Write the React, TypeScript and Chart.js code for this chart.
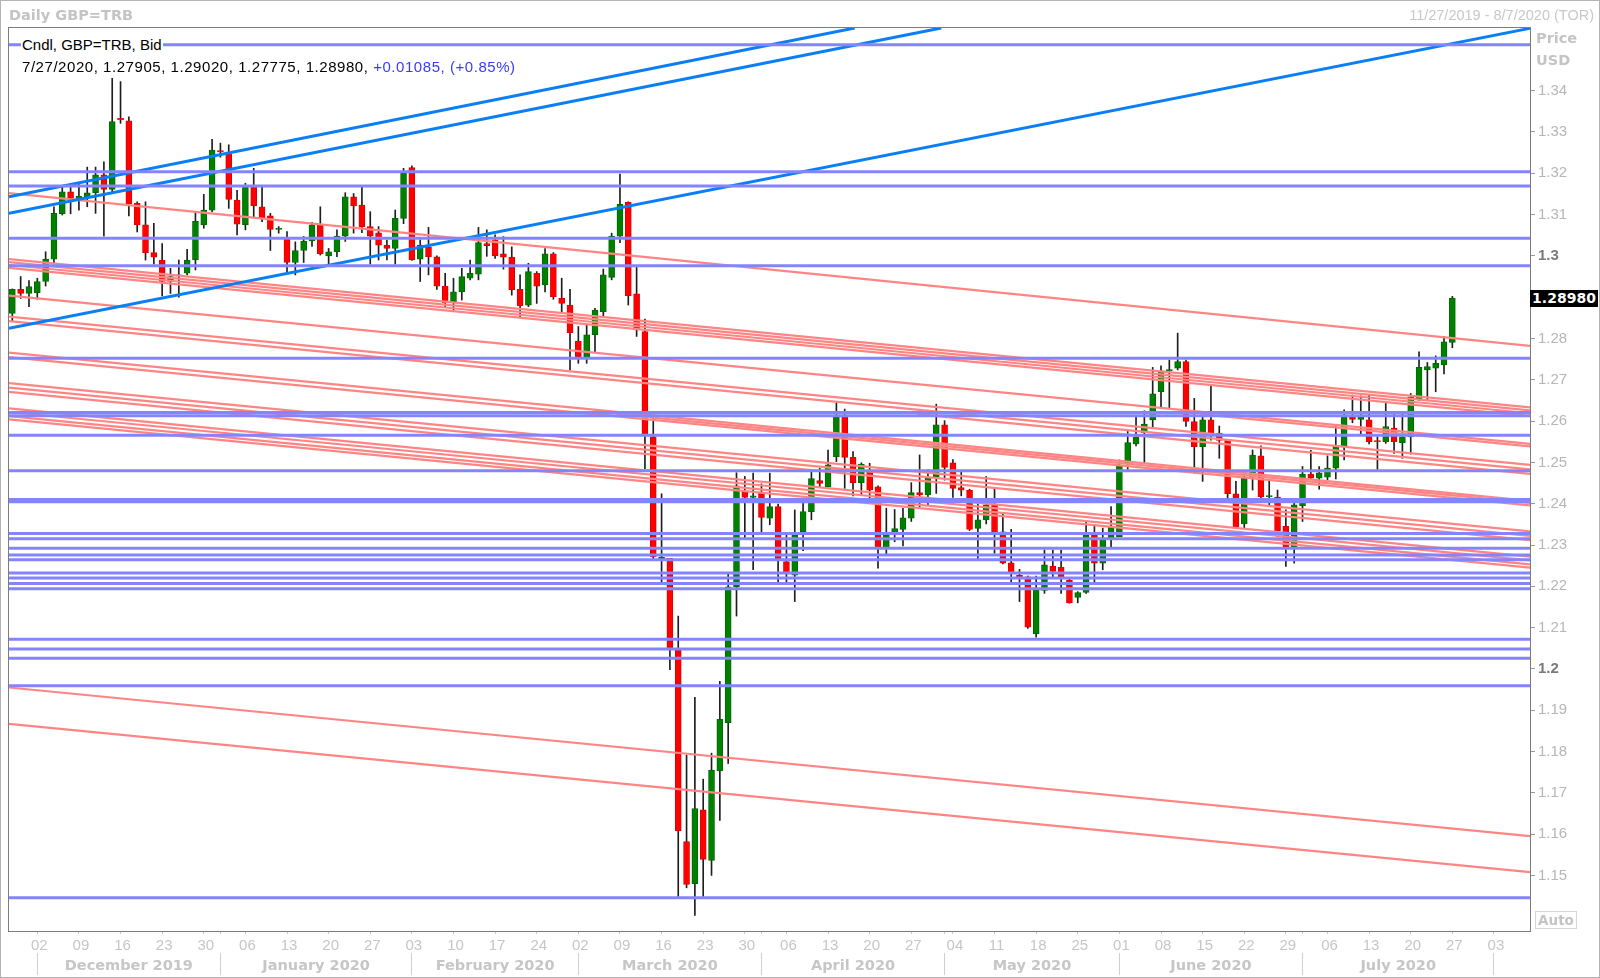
import { useEffect, useRef } from 'react';
import { Chart, registerables } from 'chart.js';

Chart.register(...registerables);

// weekday index: 0 = Mon 2 Dec 2019
const FIRST_INDEX = -3; // Wed 27 Nov 2019
const X_MIN = -3.4;
const X_MAX = 179.33;
const Y_MIN = 1.13654;
const Y_MAX = 1.35518;

const opens = [
  1.2861, 1.2919, 1.2909,
  1.2911, 1.2938, 1.2992, 1.3102, 1.3155, 1.3137, 1.3143, 1.3153, 1.3196, 1.3161,
  1.3333, 1.3327, 1.3127, 1.3075, 1.3008, 1.2990, 1.2938, 1.2952, 1.2958, 1.2990,
  1.3075, 1.3111, 1.3255, 1.3248, 1.3135, 1.3075, 1.3168, 1.3119, 1.3097, 1.3064,
  1.3040, 1.2984, 1.3013, 1.3036, 1.3075, 1.3000, 1.3010, 1.3048, 1.3143, 1.3123,
  1.3071, 1.3056, 1.3026, 1.3018, 1.3091, 1.3214, 1.2992, 1.3022, 1.2998, 1.2927,
  1.2889, 1.2913, 1.2946, 1.2956, 1.3030, 1.3039, 1.3005, 1.2997, 1.2919, 1.2881,
  1.2958, 1.2930, 1.3005, 1.2897, 1.2881, 1.2794, 1.2756, 1.2809, 1.2865, 1.2948,
  1.3048, 1.3130, 1.2908, 1.2817, 1.2562, 1.2266, 1.2268, 1.2046, 1.1582, 1.1480,
  1.1659, 1.1536, 1.1753, 1.1870, 1.2199, 1.2430, 1.2415, 1.2425, 1.2365, 1.2393,
  1.2260, 1.2227, 1.2332, 1.2381, 1.2456, 1.2441, 1.2514, 1.2611, 1.2512, 1.2451,
  1.2478, 1.2441, 1.2294, 1.2327, 1.2338, 1.2365, 1.2427, 1.2421, 1.2464, 1.2591,
  1.2499, 1.2439, 1.2433, 1.2340, 1.2361, 1.2397, 1.2332, 1.2257, 1.2227, 1.2223,
  1.2085, 1.2190, 1.2249, 1.2246, 1.2215, 1.2173, 1.2185, 1.2324, 1.2256, 1.2316,
  1.2320, 1.2498, 1.2545, 1.2572, 1.2603, 1.2671, 1.2722, 1.2728, 1.2744, 1.2599,
  1.2538, 1.2603, 1.2571, 1.2554, 1.2424, 1.2351, 1.2464, 1.2516, 1.2417, 1.2416,
  1.2345, 1.2296, 1.2395, 1.2472, 1.2462, 1.2464, 1.2486, 1.2538, 1.2611, 1.2604,
  1.2603, 1.2553, 1.2550, 1.2583, 1.2548, 1.2562, 1.2654, 1.2724, 1.2728, 1.2736,
  1.27905,
];

const highs = [
  1.2920, 1.2950, 1.2940,
  1.2946, 1.3010, 1.3119, 1.3168, 1.3168, 1.3174, 1.3215, 1.3215, 1.3228, 1.3430,
  1.3422, 1.3337, 1.3131, 1.3131, 1.3079, 1.3030, 1.2970, 1.2990, 1.3016, 1.3107,
  1.3149, 1.3282, 1.3273, 1.3269, 1.3159, 1.3176, 1.3212, 1.3166, 1.3103, 1.3071,
  1.3059, 1.3034, 1.3047, 1.3081, 1.3119, 1.3018, 1.3063, 1.3153, 1.3151, 1.3166,
  1.3107, 1.3071, 1.3038, 1.3111, 1.3212, 1.3218, 1.3039, 1.3069, 1.3000, 1.2958,
  1.2946, 1.2970, 1.2990, 1.3069, 1.3063, 1.3051, 1.3047, 1.3022, 1.2954, 1.2982,
  1.2962, 1.3018, 1.3008, 1.2946, 1.2919, 1.2829, 1.2833, 1.2873, 1.2968, 1.3055,
  1.3198, 1.3131, 1.2974, 1.2847, 1.2607, 1.2424, 1.2268, 1.2128, 1.1791, 1.1931,
  1.1733, 1.1796, 1.1970, 1.2230, 1.2475, 1.2466, 1.2474, 1.2448, 1.2474, 1.2399,
  1.2324, 1.2385, 1.2401, 1.2478, 1.2486, 1.2530, 1.2645, 1.2629, 1.2526, 1.2499,
  1.2498, 1.2443, 1.2389, 1.2386, 1.2389, 1.2451, 1.2518, 1.2482, 1.2641, 1.2601,
  1.2507, 1.2478, 1.2435, 1.2407, 1.2466, 1.2437, 1.2375, 1.2338, 1.2241, 1.2225,
  1.2225, 1.2288, 1.2288, 1.2288, 1.2217, 1.2187, 1.2357, 1.2350, 1.2341, 1.2393,
  1.2506, 1.2575, 1.2611, 1.2625, 1.2730, 1.2734, 1.2748, 1.2813, 1.2748, 1.2655,
  1.2611, 1.2684, 1.2588, 1.2556, 1.2454, 1.2475, 1.2530, 1.2540, 1.2458, 1.2433,
  1.2385, 1.2409, 1.2490, 1.2529, 1.2490, 1.2516, 1.2591, 1.2627, 1.2663, 1.2661,
  1.2663, 1.2562, 1.2645, 1.2619, 1.2619, 1.2667, 1.2768, 1.2742, 1.2758, 1.2805,
  1.29020,
];

const lows = [
  1.2841, 1.2897, 1.2877,
  1.2895, 1.2927, 1.2982, 1.3099, 1.3102, 1.3111, 1.3119, 1.3103, 1.3048, 1.3155,
  1.3321, 1.3097, 1.3058, 1.2990, 1.2980, 1.2903, 1.2909, 1.2900, 1.2954, 1.2966,
  1.3067, 1.3107, 1.3239, 1.3115, 1.3051, 1.3063, 1.3095, 1.3083, 1.3013, 1.3055,
  1.2958, 1.2954, 1.2984, 1.3023, 1.3002, 1.2980, 1.2998, 1.3035, 1.3055, 1.3056,
  1.2980, 1.2990, 1.2990, 1.2980, 1.3078, 1.2989, 1.2938, 1.2954, 1.2919, 1.2877,
  1.2865, 1.2893, 1.2942, 1.2942, 1.2999, 1.2994, 1.2968, 1.2905, 1.2853, 1.2877,
  1.2885, 1.2913, 1.2895, 1.2861, 1.2724, 1.2740, 1.2740, 1.2768, 1.2855, 1.2942,
  1.3032, 1.2881, 1.2805, 1.2485, 1.2266, 1.2204, 1.1998, 1.1449, 1.1470, 1.1403,
  1.1449, 1.1500, 1.1633, 1.1771, 1.2128, 1.2317, 1.2240, 1.2332, 1.2349, 1.2207,
  1.2207, 1.2163, 1.2286, 1.2361, 1.2440, 1.2440, 1.2502, 1.2437, 1.2419, 1.2421,
  1.2405, 1.2244, 1.2278, 1.2308, 1.2298, 1.2357, 1.2393, 1.2395, 1.2425, 1.2457,
  1.2415, 1.2419, 1.2335, 1.2265, 1.2351, 1.2280, 1.2254, 1.2206, 1.2163, 1.2098,
  1.2077, 1.2183, 1.2219, 1.2183, 1.2159, 1.2160, 1.2183, 1.2210, 1.2240, 1.2292,
  1.2320, 1.2483, 1.2540, 1.2498, 1.2583, 1.2631, 1.2631, 1.2724, 1.2587, 1.2474,
  1.2454, 1.2554, 1.2510, 1.2413, 1.2341, 1.2341, 1.2433, 1.2413, 1.2393, 1.2320,
  1.2248, 1.2256, 1.2357, 1.2458, 1.2435, 1.2458, 1.2460, 1.2506, 1.2596, 1.2569,
  1.2545, 1.2483, 1.2546, 1.2522, 1.2510, 1.2520, 1.2650, 1.2651, 1.2671, 1.2714,
  1.27775,
];

const closes = [
  1.2919, 1.2909, 1.2926,
  1.2938, 1.2992, 1.3103, 1.3155, 1.3139, 1.3145, 1.3153, 1.3196, 1.3161, 1.3325,
  1.3329, 1.3126, 1.3075, 1.3008, 1.2997, 1.2938, 1.2950, 1.2954, 1.2990, 1.3084,
  1.3111, 1.3256, 1.3252, 1.3137, 1.3077, 1.3168, 1.3121, 1.3091, 1.3064, 1.3067,
  1.2984, 1.3013, 1.3036, 1.3075, 1.3005, 1.3010, 1.3048, 1.3143, 1.3121, 1.3071,
  1.3048, 1.3026, 1.3018, 1.3091, 1.3200, 1.2990, 1.3026, 1.2998, 1.2927, 1.2887,
  1.2913, 1.2950, 1.2958, 1.3032, 1.3025, 1.3000, 1.2997, 1.2918, 1.2879, 1.2962,
  1.2927, 1.3005, 1.2901, 1.2885, 1.2814, 1.2756, 1.2809, 1.2869, 1.2954, 1.3048,
  1.3125, 1.2904, 1.2821, 1.2567, 1.2271, 1.2270, 1.2051, 1.1608, 1.1478, 1.1662,
  1.1539, 1.1755, 1.1878, 1.2199, 1.2443, 1.2415, 1.2419, 1.2367, 1.2393, 1.2265,
  1.2230, 1.2324, 1.2381, 1.2461, 1.2449, 1.2494, 1.2611, 1.2512, 1.2451, 1.2496,
  1.2433, 1.2294, 1.2324, 1.2340, 1.2366, 1.2427, 1.2421, 1.2464, 1.2591, 1.2488,
  1.2437, 1.2433, 1.2338, 1.2361, 1.2397, 1.2330, 1.2256, 1.2233, 1.2222, 1.2101,
  1.2190, 1.2252, 1.2236, 1.2223, 1.2160, 1.2185, 1.2324, 1.2256, 1.2312, 1.2343,
  1.2491, 1.2548, 1.2561, 1.2593, 1.2666, 1.2722, 1.2725, 1.2744, 1.2599, 1.2538,
  1.2603, 1.2569, 1.2553, 1.2424, 1.2343, 1.2464, 1.2518, 1.2417, 1.2419, 1.2335,
  1.2296, 1.2397, 1.2472, 1.2462, 1.2475, 1.2486, 1.2540, 1.2611, 1.2604, 1.2611,
  1.2550, 1.2550, 1.2587, 1.2550, 1.2562, 1.2659, 1.2730, 1.2732, 1.2740, 1.2792,
  1.28980,
];

// x-axis: Monday ticks and day labels
const mondayIndex = [
  0, 5, 10, 15, 20, 25, 30, 35, 40, 45, 50, 55, 60, 65, 70, 75, 80, 85,
  90, 95, 100, 105, 110, 115, 120, 125, 130, 135, 140, 145, 150, 155, 160, 165, 170, 175,
];
const dayLabels = [
  '02', '09', '16', '23', '30', '06', '13', '20', '27', '03', '10', '17', '24',
  '02', '09', '16', '23', '30', '06', '13', '20', '27', '04', '11', '18', '25',
  '01', '08', '15', '22', '29', '06', '13', '20', '27', '03',
];
const monthStartIndex = [0, 22, 45, 65, 87, 109, 130, 152, 175];
const monthLabels = [
  'December 2019', 'January 2020', 'February 2020', 'March 2020',
  'April 2020', 'May 2020', 'June 2020', 'July 2020',
];
const priceTicks = [
  1.15, 1.16, 1.17, 1.18, 1.19, 1.2, 1.21, 1.22, 1.23, 1.24,
  1.25, 1.26, 1.27, 1.28, 1.29, 1.3, 1.31, 1.32, 1.33, 1.34,
];

// horizontal support / resistance levels (purple)
const levelLines = [
  1.3511, 1.3204, 1.3169, 1.3043, 1.2976, 1.2752, 1.2621, 1.2613, 1.2566,
  1.2480, 1.2410, 1.2405, 1.2328, 1.2315, 1.2292, 1.2276, 1.2264, 1.2232,
  1.2220, 1.2207, 1.2194, 1.2072, 1.2048, 1.2026, 1.1959, 1.1446,
];

// falling trend lines (salmon): [x0, p0, x1, p1]
const pinkLines: number[][] = [
  [-3.4, 1.3152, 179.33, 1.2782],
  [-3.4, 1.2992, 179.33, 1.2633],
  [-3.4, 1.2985, 179.33, 1.2626],
  [-3.4, 1.2978, 179.33, 1.2619],
  [-3.4, 1.2971, 179.33, 1.2612],
  [-3.4, 1.2904, 179.33, 1.2545],
  [-3.4, 1.2853, 179.33, 1.2494],
  [-3.4, 1.2842, 179.33, 1.2483],
  [-3.4, 1.2766, 179.33, 1.2407],
  [-3.4, 1.2755, 179.33, 1.2396],
  [-3.4, 1.2692, 179.33, 1.2333],
  [-3.4, 1.2681, 179.33, 1.2322],
  [-3.4, 1.2671, 179.33, 1.2312],
  [-3.4, 1.2631, 179.33, 1.2272],
  [-3.4, 1.2622, 179.33, 1.2263],
  [-3.4, 1.2612, 179.33, 1.2253],
  [-3.4, 1.2604, 179.33, 1.2245],
  [69.6, 1.2617, 179.33, 1.2402],
  [105.7, 1.2617, 179.33, 1.2472],
  [139.7, 1.2617, 179.33, 1.2539],
  [-3.4, 1.1955, 179.33, 1.1595],
  [-3.4, 1.1867, 179.33, 1.1508],
];

// rising trend lines (blue): [x0, p0, x1, p1]
const blueLines: number[][] = [
  [-3.4, 1.3143, 98.2, 1.35518],
  [-3.4, 1.3103, 108.6, 1.35518],
  [-3.4, 1.2825, 179.33, 1.3551],
];

const REG = "'Liberation Sans', Arial, sans-serif";
const BOLD = "'DejaVu Sans', Verdana, sans-serif";

export default function App() {
  const ref = useRef<HTMLCanvasElement>(null);

  useEffect(() => {
    const canvas = ref.current;
    if (!canvas) return;

    const up = opens.map((o, k) => closes[k] >= o);
    const bodyData = opens.map((o, k) => ({ x: FIRST_INDEX + k, y: [o, closes[k]] }));
    const wickData = lows.map((l, k) => ({ x: FIRST_INDEX + k, y: [l, highs[k]] }));

    const datasets: any[] = [];
    levelLines.forEach((p) =>
      datasets.push({
        type: 'line',
        data: [{ x: X_MIN, y: p }, { x: X_MAX, y: p }],
        borderColor: '#8484ff',
        borderWidth: 3,
        pointRadius: 0,
        fill: false,
        xAxisID: 'x',
        yAxisID: 'y',
      })
    );
    blueLines.forEach((l) =>
      datasets.push({
        type: 'line',
        data: [{ x: l[0], y: l[1] }, { x: l[2], y: l[3] }],
        borderColor: '#0a7ff5',
        borderWidth: 3,
        pointRadius: 0,
        fill: false,
        xAxisID: 'x',
        yAxisID: 'y',
      })
    );
    pinkLines.forEach((l) =>
      datasets.push({
        type: 'line',
        data: [{ x: l[0], y: l[1] }, { x: l[2], y: l[3] }],
        borderColor: '#ff8585',
        borderWidth: 2.2,
        pointRadius: 0,
        fill: false,
        xAxisID: 'x',
        yAxisID: 'y',
      })
    );
    datasets.push({
      type: 'bar',
      data: bodyData,
      backgroundColor: up.map((u) => (u ? '#008000' : '#ff0000')),
      borderColor: up.map((u) => (u ? '#006a00' : '#e00000')),
      borderWidth: 1,
      borderSkipped: false,
      barThickness: 6,
      minBarLength: 1,
      grouped: false,
      xAxisID: 'x',
      yAxisID: 'y',
    });
    datasets.push({
      type: 'bar',
      data: wickData,
      backgroundColor: '#1e1e1e',
      borderWidth: 0,
      barThickness: 1,
      grouped: false,
      xAxisID: 'x',
      yAxisID: 'y',
    });

    const xTickValues = Array.from(new Set([...mondayIndex, ...monthStartIndex])).sort((a, b) => a - b);
    const dayLabelMap = new Map<number, string>();
    mondayIndex.forEach((v, k) => dayLabelMap.set(v, dayLabels[k]));

    const monthLabelMap = new Map<number, string>();
    monthLabels.forEach((m, k) => monthLabelMap.set((monthStartIndex[k] + monthStartIndex[k + 1]) / 2, m));
    const x2TickValues = Array.from(new Set([...monthStartIndex, ...monthLabelMap.keys()])).sort((a, b) => a - b);
    const boundarySet = new Set(monthStartIndex);

    const framePlugin = {
      id: 'frame',
      afterDraw(chart: any) {
        const { ctx, chartArea: a } = chart;
        ctx.save();
        ctx.strokeStyle = '#7c7c7c';
        ctx.lineWidth = 1;
        ctx.strokeRect(Math.round(a.left) - 0.5, Math.round(a.top) - 0.5, Math.round(a.right - a.left) + 1, Math.round(a.bottom - a.top) + 1);
        ctx.restore();
      },
    };

    const chart = new Chart(canvas, {
      type: 'bar',
      data: { datasets },
      plugins: [framePlugin],
      options: {
        responsive: false,
        animation: false,
        events: [],
        layout: { padding: { left: 9, top: 28, right: 0, bottom: 0 } },
        plugins: { legend: { display: false }, tooltip: { enabled: false } },
        scales: {
          x: {
            type: 'linear',
            axis: 'x',
            position: 'bottom',
            weight: 0,
            min: X_MIN,
            max: X_MAX,
            offset: false,
            bounds: 'data',
            afterBuildTicks: (s: any) => {
              s.ticks = xTickValues.map((v) => ({ value: v }));
            },
            afterFit: (s: any) => {
              s.height = 22;
            },
            ticks: {
              autoSkip: false,
              maxRotation: 0,
              padding: 3,
              labelOffset: 2,
              color: '#c6c6c6',
              font: { family: REG, size: 15 },
              callback: (v: any) => dayLabelMap.get(Number(v)) ?? '',
            },
            grid: { drawOnChartArea: false, drawTicks: true, tickLength: 3, tickColor: '#c8c8c8', offset: false },
            border: { display: false },
          },
          x2: {
            type: 'linear',
            axis: 'x',
            position: 'bottom',
            weight: 1,
            min: X_MIN,
            max: X_MAX,
            offset: false,
            bounds: 'data',
            afterBuildTicks: (s: any) => {
              s.ticks = x2TickValues.map((v) => ({ value: v }));
            },
            afterFit: (s: any) => {
              s.height = 25;
            },
            ticks: {
              autoSkip: false,
              maxRotation: 0,
              padding: -17,
              color: '#c6c6c6',
              font: { family: BOLD, size: 14.5, weight: 'bold' },
              callback: (v: any) => monthLabelMap.get(Number(v)) ?? '',
            },
            grid: {
              drawOnChartArea: false,
              drawTicks: true,
              tickLength: 22,
              offset: false,
              tickColor: (ctx: any) =>
                ctx.tick && boundarySet.has(ctx.tick.value) ? '#cfcfcf' : 'rgba(0,0,0,0)',
            },
            border: { display: false },
          },
          y: {
            type: 'linear',
            position: 'right',
            min: Y_MIN,
            max: Y_MAX,
            bounds: 'data',
            afterBuildTicks: (s: any) => {
              s.ticks = priceTicks.map((v) => ({ value: v }));
            },
            afterFit: (s: any) => {
              s.width = 70;
            },
            ticks: {
              padding: 3,
              color: (ctx: any) => (isMajor(ctx.tick?.value) ? '#7a7a7a' : '#b6b6b6'),
              font: (ctx: any) => ({
                family: REG,
                size: 15,
                weight: isMajor(ctx.tick?.value) ? 'bold' : 'normal',
              }),
              callback: (v: any) => String(parseFloat(Number(v).toFixed(2))),
            },
            grid: { drawOnChartArea: false, drawTicks: true, tickLength: 5, tickColor: '#9a9a9a' },
            border: { display: false },
          },
        },
      } as any,
    });

    return () => chart.destroy();
  }, []);

  return (
    <div
      style={{
        position: 'absolute',
        left: 0,
        top: 0,
        width: 1600,
        height: 978,
        background: '#ffffff',
        overflow: 'hidden',
      }}
    >
      <canvas ref={ref} width={1600} height={978} style={{ position: 'absolute', left: 0, top: 0 }} />
      <div
        style={{
          position: 'absolute',
          left: 0,
          top: 0,
          width: 1600,
          height: 978,
          border: '1px solid #b4b4b4',
          boxSizing: 'border-box',
          pointerEvents: 'none',
        }}
      />
      <div style={txt(9, 6, BOLD, 14.5, 'bold', '#c4c4c4')}>Daily GBP=TRB</div>
      <div style={{ ...txt(0, 6, REG, 14.5, 'normal', '#c8c8c8'), left: 'auto', right: 6 }}>
        11/27/2019 - 8/7/2020 (TOR)
      </div>
      <div style={{ ...txt(21, 36, REG, 15, 'normal', '#000'), background: '#fff', padding: '0 1px' }}>
        Cndl, GBP=TRB, Bid
      </div>
      <div style={{ ...txt(22, 58, REG, 15, 'normal', '#000'), letterSpacing: '0.55px' }}>
        7/27/2020, 1.27905, 1.29020, 1.27775, 1.28980,{' '}
        <span style={{ color: '#3a3aff' }}>+0.01085, (+0.85%)</span>
      </div>
      <div style={txt(1536, 29, BOLD, 14.5, 'bold', '#c4c4c4')}>Price</div>
      <div style={txt(1536, 51, BOLD, 14.5, 'bold', '#c4c4c4')}>USD</div>
      <div
        style={{
          position: 'absolute',
          left: 1530,
          top: 290,
          width: 68,
          height: 17,
          background: '#000',
          color: '#fff',
          fontFamily: BOLD,
          fontWeight: 'bold',
          fontSize: 14,
          lineHeight: '17px',
          textAlign: 'center',
          whiteSpace: 'nowrap',
        }}
      >
        1.28980
      </div>
      <div
        style={{
          position: 'absolute',
          left: 1535,
          top: 911,
          width: 42,
          height: 18,
          border: '1px solid #d6d6d6',
          boxSizing: 'border-box',
          color: '#c4c4c4',
          fontFamily: BOLD,
          fontWeight: 'bold',
          fontSize: 13.5,
          lineHeight: '16px',
          textAlign: 'center',
          whiteSpace: 'nowrap',
        }}
      >
        Auto
      </div>
    </div>
  );
}

function isMajor(v: any) {
  if (typeof v !== 'number') return false;
  return Math.abs(v * 10 - Math.round(v * 10)) < 1e-6;
}

function txt(left: number, top: number, family: string, size: number, weight: string, color: string): any {
  return {
    position: 'absolute',
    left,
    top,
    fontFamily: family,
    fontSize: size,
    fontWeight: weight,
    color,
    lineHeight: '18px',
    whiteSpace: 'nowrap',
  };
}
